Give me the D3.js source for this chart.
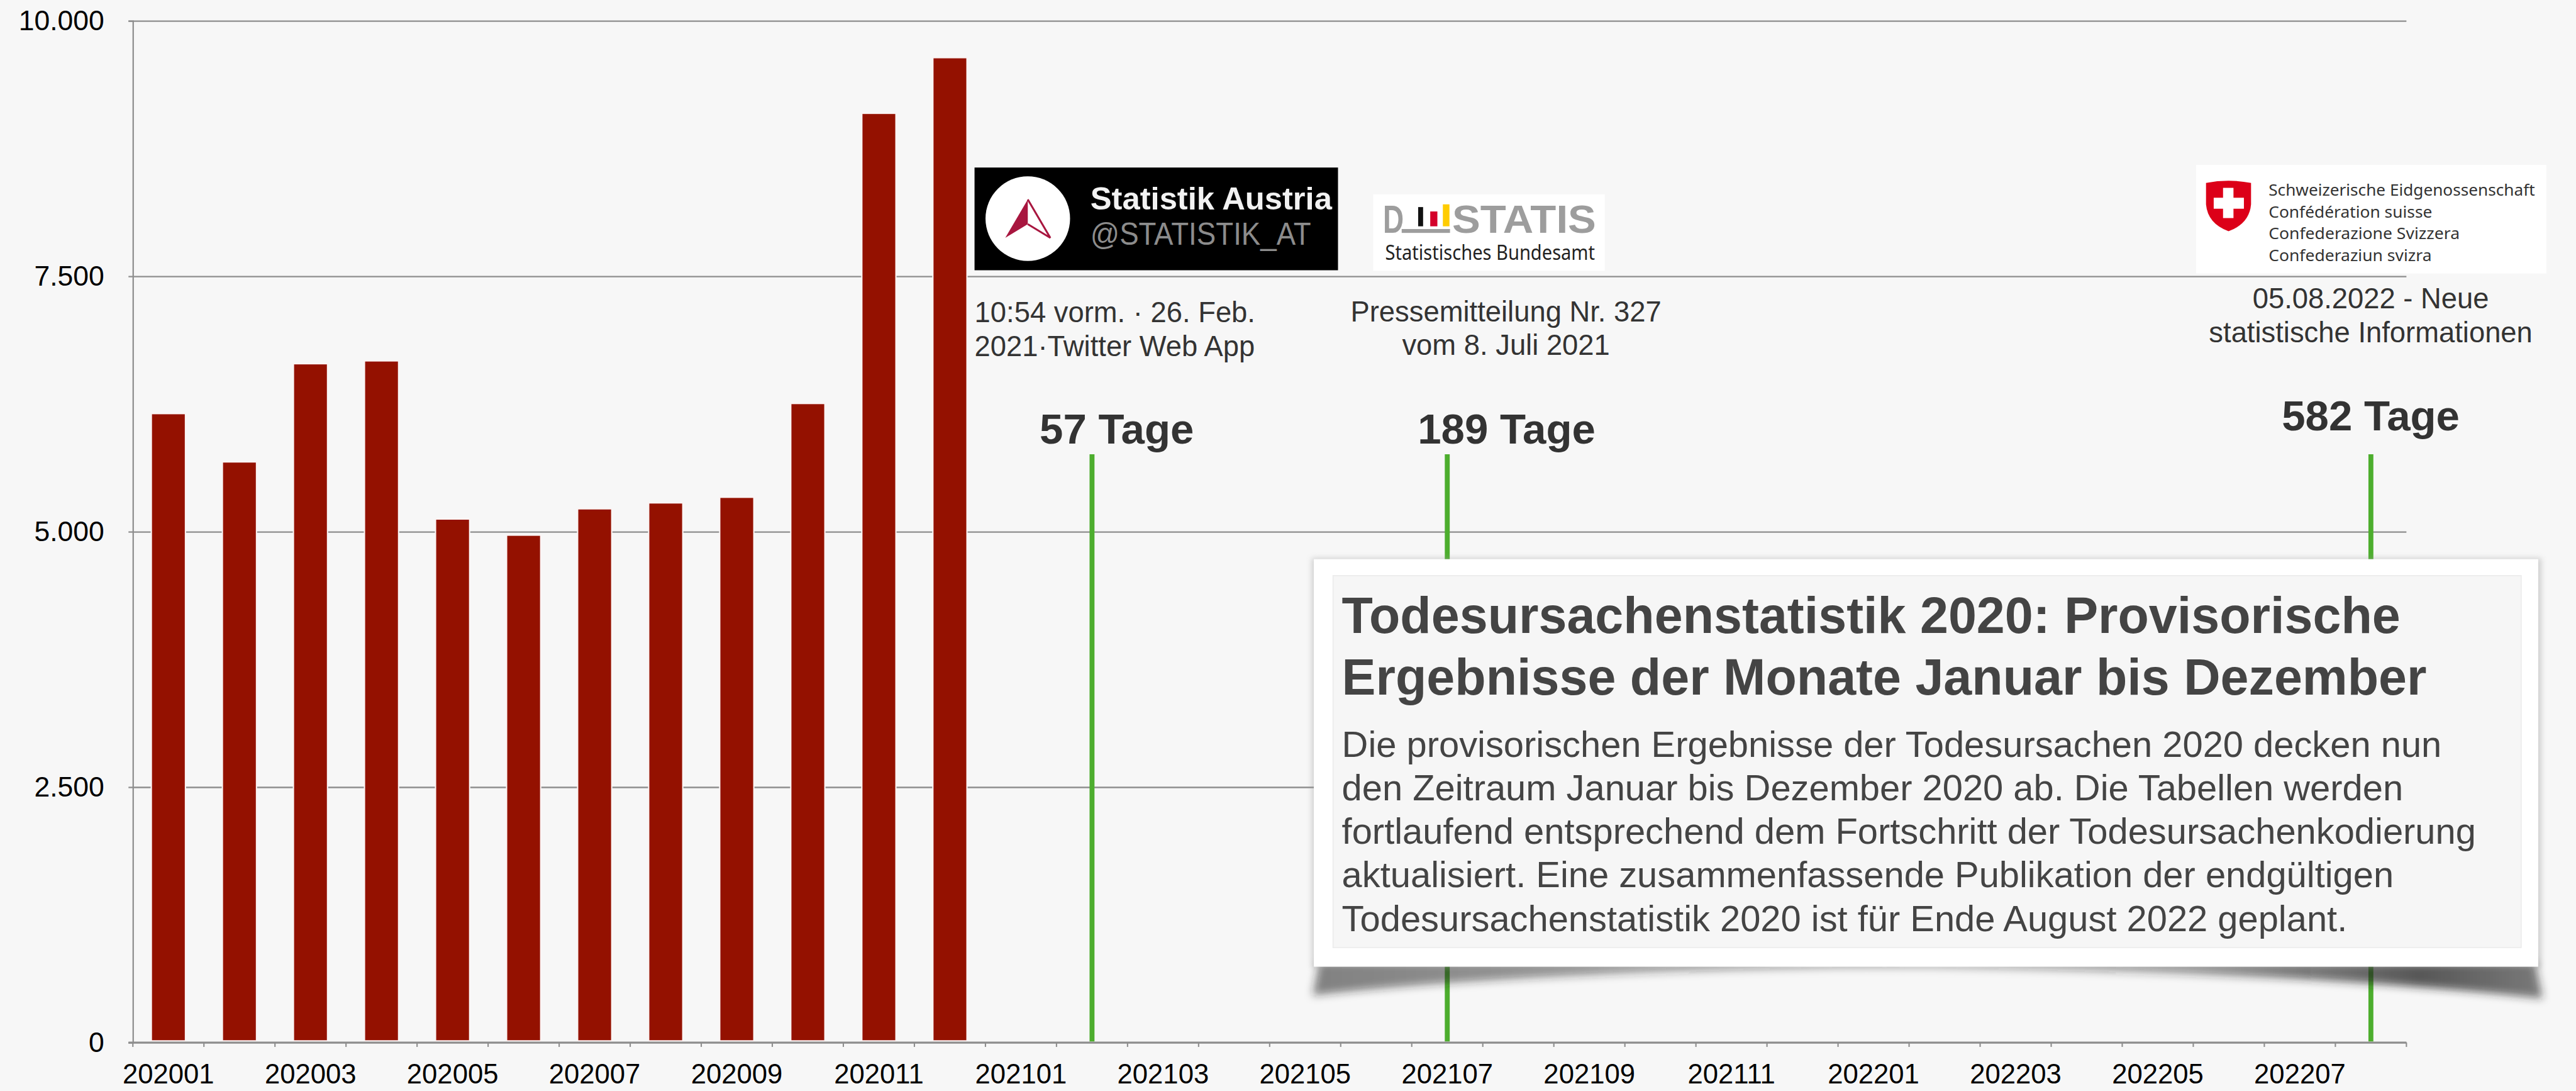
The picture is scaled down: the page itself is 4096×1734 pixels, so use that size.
<!DOCTYPE html>
<html><head><meta charset="utf-8">
<script src="https://cdn.jsdelivr.net/npm/d3@7"></script>
<style>html,body{margin:0;padding:0;background:#f7f7f7;overflow:hidden}</style>
</head><body>
<svg id="chart" width="4096" height="1734"></svg>
<script>
// ---------------- data ----------------
const months = ["202001","202002","202003","202004","202005","202006","202007","202008","202009","202010","202011","202012",
                "202101","202102","202103","202104","202105","202106","202107","202108","202109","202110","202111","202112",
                "202201","202202","202203","202204","202205","202206","202207","202208"];
const deathMonths = ["202001","202002","202003","202004","202005","202006","202007","202008","202009","202010","202011","202012"];
const deaths = [6156, 5683, 6644, 6672, 5124, 4966, 5224, 5282, 5337, 6255, 9095, 9640];
const yTicks = [0, 2500, 5000, 7500, 10000];
const xTickLabels = ["202001","202003","202005","202007","202009","202011","202101","202103","202105","202107",
                     "202109","202111","202201","202203","202205","202207"];
const milestoneMonths = ["202102","202107","202208"];
const milestoneLabels = ["57 Tage","189 Tage","582 Tage"];
const sourceNotes = [
  ["10:54 vorm. · 26. Feb.", "2021·Twitter Web App"],
  ["Pressemitteilung Nr. 327", "vom 8. Juli 2021"],
  ["05.08.2022 - Neue", "statistische Informationen"]
];
const calloutTitle = ["Todesursachenstatistik 2020: Provisorische", "Ergebnisse der Monate Januar bis Dezember"];
const calloutBody = [
  "Die provisorischen Ergebnisse der Todesursachen 2020 decken nun",
  "den Zeitraum Januar bis Dezember 2020 ab. Die Tabellen werden",
  "fortlaufend entsprechend dem Fortschritt der Todesursachenkodierung",
  "aktualisiert. Eine zusammenfassende Publikation der endgültigen",
  "Todesursachenstatistik 2020 ist für Ende August 2022 geplant."
];
const swissLines = ["Schweizerische Eidgenossenschaft","Confédération suisse","Confederazione Svizzera","Confederaziun svizra"];

// ---------------- layout ----------------
const S = 0.873;            // reference px -> output px
const u = v => v * S;
const W = 4096, H = 1734;
const FONT = "'Liberation Sans', Arial, Helvetica, sans-serif";
const LOGOFONT = "'Noto Sans', 'Open Sans', sans-serif";
const plot = {left: u(242), right: u(4383), top: u(38), bottom: u(1898)};

const svg = d3.select("#chart");
svg.append("rect").attr("width", W).attr("height", H).attr("fill", "#f7f7f7");

const defs = svg.append("defs");
defs.append("filter").attr("id","blurBig").attr("x","-10%").attr("y","-80%").attr("width","120%").attr("height","260%")
  .append("feGaussianBlur").attr("stdDeviation", u(8));
defs.append("filter").attr("id","blurSmall").attr("x","-10%").attr("y","-10%").attr("width","120%").attr("height","120%")
  .append("feGaussianBlur").attr("stdDeviation", u(5));
const sg = defs.append("linearGradient").attr("id","shadowGrad").attr("x1","0").attr("x2","1").attr("y1","0").attr("y2","0");
[[0, 0.55], [0.22, 0.45], [0.5, 0.18], [0.72, 0.45], [0.9, 0.75], [1, 0.6]].forEach(([o, a]) =>
  sg.append("stop").attr("offset", o).attr("stop-color", "#222").attr("stop-opacity", a));

// ---------------- scales ----------------
const x = d3.scaleBand().domain(months).range([plot.left, plot.right]).paddingInner(0.52).paddingOuter(0.26);
const xEdge = d3.scaleLinear().domain([0, months.length]).range([plot.left, plot.right]);
const y = d3.scaleLinear().domain([0, 10000]).range([plot.bottom, plot.top]);
const de = d3.formatLocale({decimal: ",", thousands: ".", grouping: [3], currency: ["", "€"]});
const fmt = de.format(",d");

// gridlines
const grid = svg.append("g").attr("transform", `translate(${plot.left},0)`)
  .call(d3.axisLeft(y).tickValues(yTicks).tickSize(-(plot.right - plot.left)).tickFormat(""));
grid.select(".domain").remove();
grid.selectAll(".tick line").attr("stroke", "#8e8e8e").attr("stroke-width", u(2.6));

// y axis
const yAxis = svg.append("g").attr("transform", `translate(${plot.left},0)`)
  .call(d3.axisLeft(y).tickValues(yTicks).tickSize(u(8)).tickPadding(u(44)).tickFormat(fmt));
yAxis.select(".domain").attr("stroke", "#8e8e8e").attr("stroke-width", u(2.6));
yAxis.selectAll(".tick line").attr("stroke", "#8e8e8e").attr("stroke-width", u(2.6));
yAxis.selectAll(".tick text").attr("font-family", FONT).attr("font-size", u(51)).attr("fill", "#000");

// bars
svg.append("g").selectAll("rect").data(deaths).join("rect")
  .attr("x", (d, i) => x(deathMonths[i]))
  .attr("width", x.bandwidth())
  .attr("y", d => y(d))
  .attr("height", d => y(0) - y(d) - u(3))
  .attr("fill", "#941100")
  .attr("stroke", "#fbf4f4").attr("stroke-width", u(2.4));

// x axis baseline + edge ticks
svg.append("line").attr("x1", plot.left - u(8)).attr("x2", plot.right)
  .attr("y1", plot.bottom).attr("y2", plot.bottom)
  .attr("stroke", "#8e8e8e").attr("stroke-width", u(3.5));
svg.append("g").selectAll("line").data(d3.range(months.length + 1)).join("line")
  .attr("x1", d => xEdge(d)).attr("x2", d => xEdge(d))
  .attr("y1", plot.bottom).attr("y2", plot.bottom + u(8))
  .attr("stroke", "#8e8e8e").attr("stroke-width", u(2.4));
const xAxis = svg.append("g").attr("transform", `translate(0,${plot.bottom})`)
  .call(d3.axisBottom(x).tickValues(xTickLabels).tickSize(0));
xAxis.select(".domain").remove();
xAxis.selectAll(".tick text").attr("font-family", FONT).attr("font-size", u(50)).attr("fill", "#000")
  .attr("y", u(75)).attr("dy", 0);

// milestone lines
const mx = m => x(m) + x.bandwidth() / 2;
svg.append("g").selectAll("line").data(milestoneMonths).join("line")
  .attr("x1", mx).attr("x2", mx).attr("y1", u(827)).attr("y2", plot.bottom - u(2))
  .attr("stroke", "#4dae2e").attr("stroke-width", u(9));

// milestone labels (centered over their source notes)
const labelPos = [{cx: 2034, by: 807}, {cx: 2744, by: 807}, {cx: 4318, by: 783}];
svg.append("g").selectAll("text").data(milestoneLabels).join("text")
  .attr("x", (d, i) => u(labelPos[i].cx)).attr("y", (d, i) => u(labelPos[i].by))
  .attr("text-anchor", "middle").attr("font-family", FONT).attr("font-weight", "bold")
  .attr("font-size", u(77)).attr("fill", "#333").text(d => d);

// source notes
const notePos = [{x: 1775, anchor: "start", b: [587, 648]}, {x: 2743, anchor: "middle", b: [585, 646]}, {x: 4318, anchor: "middle", b: [561, 623]}];
sourceNotes.forEach((lines, i) => {
  svg.append("g").selectAll("text").data(lines).join("text")
    .attr("x", u(notePos[i].x)).attr("y", (d, j) => u(notePos[i].b[j]))
    .attr("text-anchor", notePos[i].anchor).attr("font-family", FONT)
    .attr("font-size", u(52)).attr("fill", "#333").text(d => d);
});

// ---- Statistik Austria logo ----
const sa = svg.append("g");
sa.append("rect").attr("x", u(1775)).attr("y", u(305)).attr("width", u(662)).attr("height", u(187)).attr("fill", "#000");
sa.append("circle").attr("cx", u(1872)).attr("cy", u(398)).attr("r", u(77)).attr("fill", "#fff");
sa.append("path").attr("d", `M${u(1872)},${u(363)} L${u(1831)},${u(433)} L${u(1872)},${u(408)} Z`).attr("fill", "#a8163f");
sa.append("path").attr("d", `M${u(1872)},${u(363)} L${u(1913)},${u(433)} L${u(1872)},${u(408)}`)
  .attr("fill", "none").attr("stroke", "#a8163f").attr("stroke-width", u(3.5));
sa.append("text").attr("x", u(1986)).attr("y", u(382)).attr("font-family", FONT).attr("font-weight", "bold")
  .attr("font-size", u(57)).attr("fill", "#f2f2f2").attr("textLength", u(440)).attr("lengthAdjust", "spacingAndGlyphs").text("Statistik Austria");
sa.append("text").attr("x", u(1986)).attr("y", u(446)).attr("font-family", FONT)
  .attr("font-size", u(57)).attr("fill", "#8c8c8c").attr("textLength", u(402)).attr("lengthAdjust", "spacingAndGlyphs").text("@STATISTIK_AT");

// ---- DESTATIS logo ----
const ds = svg.append("g");
ds.append("rect").attr("x", u(2501)).attr("y", u(354)).attr("width", u(422)).attr("height", u(139)).attr("fill", "#fff");
ds.append("text").attr("x", u(2519)).attr("y", u(424)).attr("font-family", FONT).attr("font-weight", "bold")
  .attr("font-size", u(72)).attr("fill", "#9d9d9d").attr("textLength", u(38)).attr("lengthAdjust", "spacingAndGlyphs").text("D");
ds.append("rect").attr("x", u(2553)).attr("y", u(417)).attr("width", u(88)).attr("height", u(7)).attr("fill", "#9d9d9d");
ds.append("rect").attr("x", u(2583)).attr("y", u(377)).attr("width", u(9)).attr("height", u(35)).attr("fill", "#111");
ds.append("rect").attr("x", u(2605)).attr("y", u(385)).attr("width", u(13)).attr("height", u(27)).attr("fill", "#d4002a");
ds.append("rect").attr("x", u(2628)).attr("y", u(372)).attr("width", u(12)).attr("height", u(40)).attr("fill", "#ffcc00");
ds.append("text").attr("x", u(2645)).attr("y", u(424)).attr("font-family", FONT).attr("font-weight", "bold")
  .attr("font-size", u(72)).attr("fill", "#9d9d9d").attr("textLength", u(262)).attr("lengthAdjust", "spacingAndGlyphs").text("STATIS");
ds.append("text").attr("x", u(2523)).attr("y", u(473)).attr("font-family", LOGOFONT)
  .attr("font-size", u(38)).attr("fill", "#222").attr("textLength", u(382)).attr("lengthAdjust", "spacingAndGlyphs").text("Statistisches Bundesamt");

// ---- Swiss logo ----
const ch = svg.append("g");
ch.append("rect").attr("x", u(4000)).attr("y", u(300)).attr("width", u(638)).attr("height", u(198)).attr("fill", "#fff");
ch.append("path").attr("d",
  `M${u(4018)},${u(333)} Q${u(4059)},${u(325)} ${u(4100)},${u(333)} L${u(4100)},${u(372)} Q${u(4097)},${u(407)} ${u(4059)},${u(421)} Q${u(4021)},${u(407)} ${u(4018)},${u(372)} Z`)
  .attr("fill", "#dc0018");
ch.append("rect").attr("x", u(4049)).attr("y", u(342)).attr("width", u(19)).attr("height", u(55)).attr("fill", "#fff");
ch.append("rect").attr("x", u(4032)).attr("y", u(360)).attr("width", u(55)).attr("height", u(20)).attr("fill", "#fff");
const swissW = [485, 298, 348, 297];
ch.selectAll("text.sw").data(swissLines).join("text").attr("class", "sw")
  .attr("x", u(4132)).attr("y", (d, i) => u(356 + i * 39.8))
  .attr("font-family", LOGOFONT).attr("font-size", u(30)).attr("fill", "#333")
  .attr("textLength", (d, i) => u(swissW[i])).attr("lengthAdjust", "spacingAndGlyphs").text(d => d);

// ---- callout box ----
const box = {x0: 2393, y0: 1018, x1: 4623, y1: 1760};
const cb = svg.append("g");
// curled drop shadow: deep at the corners, thin and light in the middle
cb.append("path").attr("d",
  `M${u(box.x0 + 10)},${u(box.y1 - 10)} L${u(box.x0 - 2)},${u(1812)} Q${u(2750)},${u(1772)} ${u(3350)},${u(1762)} Q${u(4150)},${u(1764)} ${u(box.x1 + 8)},${u(1818)} L${u(box.x1 - 6)},${u(box.y1 - 10)} Z`)
  .attr("fill", "url(#shadowGrad)").attr("filter", "url(#blurBig)");
cb.append("rect").attr("x", u(box.x0 - 4)).attr("y", u(box.y0 - 2)).attr("width", u(box.x1 - box.x0 + 10)).attr("height", u(box.y1 - box.y0 + 4))
  .attr("fill", "#999").attr("opacity", 0.4).attr("filter", "url(#blurSmall)");
cb.append("rect").attr("x", u(box.x0)).attr("y", u(box.y0)).attr("width", u(box.x1 - box.x0)).attr("height", u(box.y1 - box.y0)).attr("fill", "#fff");
cb.append("rect").attr("x", u(2428)).attr("y", u(1048)).attr("width", u(2164)).attr("height", u(677))
  .attr("fill", "#f6f6f6").attr("stroke", "#ececec").attr("stroke-width", u(2));
cb.selectAll("text.t").data(calloutTitle).join("text").attr("class", "t")
  .attr("x", u(2444)).attr("y", (d, i) => u(1152 + i * 113))
  .attr("font-family", FONT).attr("font-weight", "bold").attr("font-size", u(92.6)).attr("fill", "#444").text(d => d);
cb.selectAll("text.b").data(calloutBody).join("text").attr("class", "b")
  .attr("x", u(2444)).attr("y", (d, i) => u(1378 + i * 79.2))
  .attr("font-family", FONT).attr("font-size", u(66.3)).attr("fill", "#444").text(d => d);
</script>
</body></html>
